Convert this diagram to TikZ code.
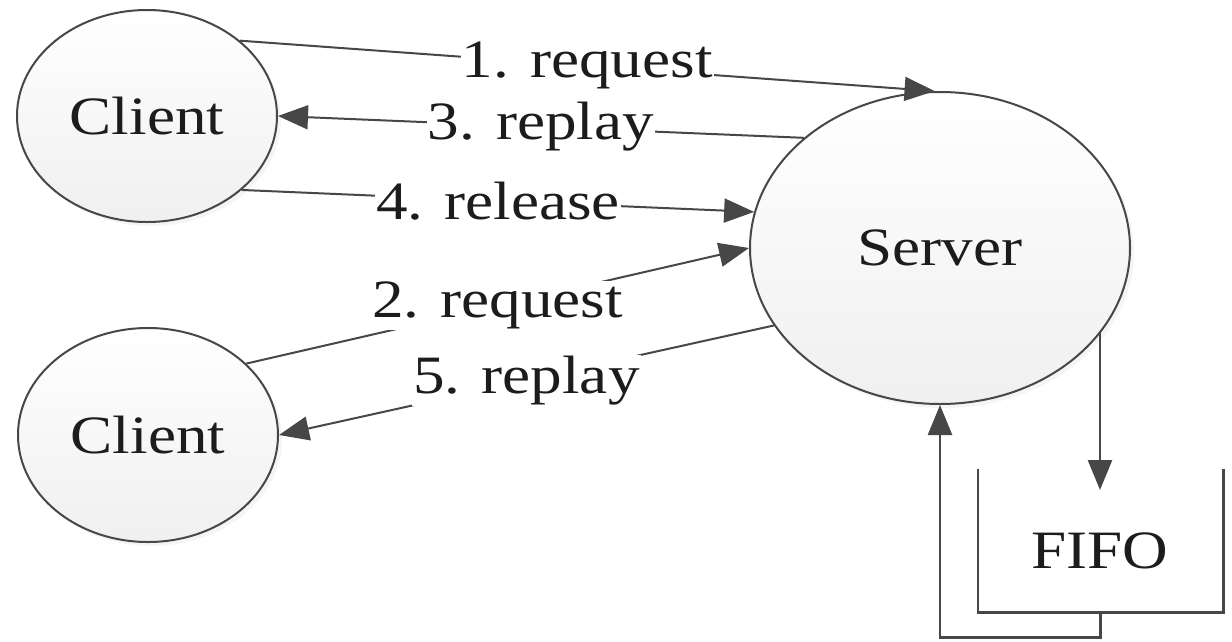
\documentclass[tikz,border=0pt]{standalone}
\usepackage{fontspec}
\setmainfont{Liberation Serif}[FakeStretch=1.17]
\usetikzlibrary{arrows.meta,shapes.geometric,shadows}
\definecolor{ink}{HTML}{474747}
\definecolor{txt}{HTML}{1C1C1C}
\tikzset{
  party/.style={ellipse, draw=ink, line width=2pt, inner sep=0pt,
    top color=white, bottom color=black!6,
    drop shadow={opacity=0.08, shadow xshift=4pt, shadow yshift=-4pt}},
  msg/.style={draw=ink, line width=2pt, -{Triangle[length=30pt,width=24pt]}},
  lbl/.style={fill=white, inner sep=1pt},
  boxline/.style={draw=ink, line width=2.6pt}
}
\begin{document}
\begin{tikzpicture}[x=1pt, y=-1pt, font=\fontsize{54pt}{60pt}\selectfont, text=txt]
\useasboundingbox (0,0) rectangle (1232,641);

% participants
\node[party, minimum width=260pt, minimum height=212pt] (c1) at (147,116) {Client};
\node[party, minimum width=260pt, minimum height=214pt] (c2) at (148,435) {Client};
\node[party, minimum width=380pt, minimum height=312pt] (srv) at (940,248) {Server};

% messages
\draw[msg] (c1.39) -- node[lbl] {1. request} (srv.92);
\draw[msg] (srv.141) -- node[lbl] {3. replay} (c1.0);
\draw[msg] (c1.-38) -- node[lbl] {4. release} (srv.169);
\draw[msg] (c2.36) -- node[lbl] {2. request} (srv.180);
\draw[msg] (srv.205) -- node[lbl] {5. replay} (c2.0);

% queue
\node[minimum width=245pt, minimum height=143pt, inner sep=0pt] (fifo) at (1100.5,540.5) {};
\draw[boxline] (fifo.north west) -- (fifo.south west) -- (fifo.south east) -- (fifo.north east);
\node (fifotxt) at (1100,551) {FIFO};
\coordinate (fin) at (1100,490);
\draw[msg, line width=2.6pt] (srv.-28 -| fin) -- (fin);
\draw[msg, line width=2.6pt] (fifo.south) -- ++(0,25) -| (srv.south);
\end{tikzpicture}
\end{document}
